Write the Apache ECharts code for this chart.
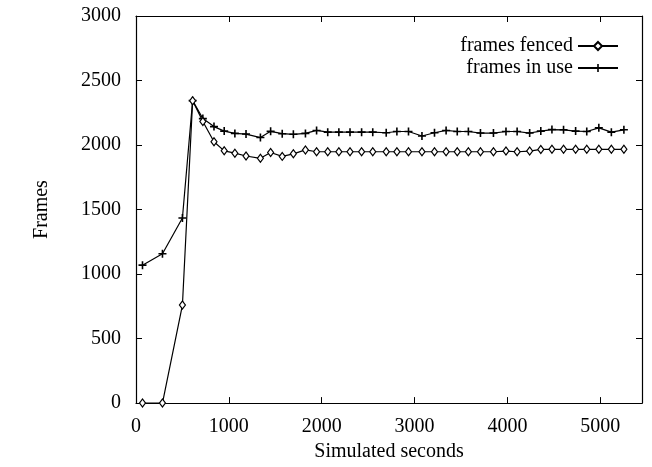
<!DOCTYPE html>
<html>
<head>
<meta charset="utf-8">
<script src="https://cdn.jsdelivr.net/npm/echarts@6/dist/echarts.min.js"></script>
<style>
  html, body { margin: 0; padding: 0; background: #fff; }
  #chart { width: 652px; height: 467px; }
</style>
</head>
<body>
<div id="chart"></div>
<script>
// sample times (simulated seconds) shared by both curves
var seconds = [70, 285, 500, 610, 720, 840, 950, 1065, 1185, 1340, 1450, 1575, 1695, 1825, 1945,
    2065, 2185, 2305, 2430, 2550, 2695, 2810, 2935, 3080, 3215, 3340, 3460, 3580, 3710, 3850,
    3985, 4105, 4240, 4360, 4480, 4605, 4735, 4855, 4985, 5120, 5255];

var framesFenced = [0, 0, 760, 2344, 2183, 2025, 1955, 1937, 1915, 1897, 1942, 1912, 1932, 1962, 1948,
    1948, 1948, 1948, 1948, 1948, 1948, 1948, 1948, 1948, 1948, 1948, 1948, 1948, 1948, 1948,
    1953, 1948, 1953, 1966, 1967, 1967, 1967, 1967, 1967, 1967, 1967];

var framesInUse = [1069, 1158, 1434, 2344, 2205, 2143, 2108, 2090, 2085, 2058, 2106, 2088, 2083, 2090, 2113,
    2100, 2100, 2100, 2100, 2100, 2095, 2105, 2105, 2070, 2095, 2113, 2105, 2105, 2093, 2093,
    2105, 2105, 2093, 2108, 2120, 2118, 2108, 2105, 2133, 2100, 2118];

var xTicks = [0, 1000, 2000, 3000, 4000, 5000];
var yTicks = [0, 500, 1000, 1500, 2000, 2500, 3000];

var font = '"Liberation Serif", "DejaVu Serif", serif';
var plus = 'path://M4,0H6V4H10V6H6V10H4V6H0V4H4Z';

function pairs(ys) {
    return seconds.map(function (s, i) { return [s, ys[i]]; });
}

var chartDom = document.getElementById("chart");
var myChart = echarts.init(chartDom, null, { renderer: "canvas" });

var tickStyle = { show: true, inside: true, length: 6, lineStyle: { color: "#000", width: 1 } };
var lineAxis = { show: true, onZero: false, lineStyle: { color: "#000", width: 1.2 } };

var option = {
    animation: false,
    backgroundColor: "#fff",
    grid: { left: 136, right: 10, top: 16, bottom: 54 },
    legend: {
        orient: "vertical",
        right: 28,
        top: 31,
        align: "right",
        itemWidth: 40,
        itemHeight: 10,
        itemGap: 2,
        textStyle: { fontFamily: font, fontSize: 20, color: "#000", lineHeight: 20 },
        data: ["frames fenced", "frames in use"]
    },
    xAxis: [
        {
            type: "value",
            min: 0,
            max: 5450,
            interval: 1000,
            name: "Simulated seconds",
            nameLocation: "middle",
            nameGap: 31,
            nameTextStyle: { fontFamily: font, fontSize: 20, color: "#000" },
            axisLine: lineAxis,
            axisTick: tickStyle,
            splitLine: { show: false },
            axisLabel: {
                fontFamily: font, fontSize: 20, color: "#000", margin: 14,
                showMaxLabel: false,
                formatter: function (v) { return xTicks.indexOf(v) >= 0 ? String(v) : ""; }
            }
        },
        {
            type: "value",
            position: "top",
            min: 0,
            max: 5450,
            interval: 1000,
            axisLine: lineAxis,
            axisTick: tickStyle,
            axisLabel: { show: false },
            splitLine: { show: false }
        }
    ],
    yAxis: [
        {
            type: "value",
            min: 0,
            max: 3000,
            interval: 500,
            name: "Frames",
            nameLocation: "middle",
            nameGap: 84,
            nameTextStyle: { fontFamily: font, fontSize: 20, color: "#000" },
            axisLine: lineAxis,
            axisTick: tickStyle,
            splitLine: { show: false },
            axisLabel: {
                fontFamily: font, fontSize: 20, color: "#000", margin: 15,
                formatter: function (v) { return yTicks.indexOf(v) >= 0 ? String(v) : ""; }
            }
        },
        {
            type: "value",
            position: "right",
            min: 0,
            max: 3000,
            interval: 500,
            axisLine: lineAxis,
            axisTick: tickStyle,
            axisLabel: { show: false },
            splitLine: { show: false }
        }
    ],
    series: [
        {
            name: "frames fenced",
            type: "line",
            data: pairs(framesFenced),
            symbol: "diamond",
            symbolSize: [6, 8],
            showAllSymbol: true,
            lineStyle: { color: "#000", width: 1.2 },
            itemStyle: { color: "#fff", borderColor: "#000", borderWidth: 1.2 },
            z: 3
        },
        {
            name: "frames in use",
            type: "line",
            data: pairs(framesInUse),
            symbol: plus,
            symbolSize: 8,
            showAllSymbol: true,
            lineStyle: { color: "#000", width: 1.2 },
            itemStyle: { color: "#000" },
            z: 2
        }
    ]
};

option && myChart.setOption(option);
</script>
</body>
</html>
